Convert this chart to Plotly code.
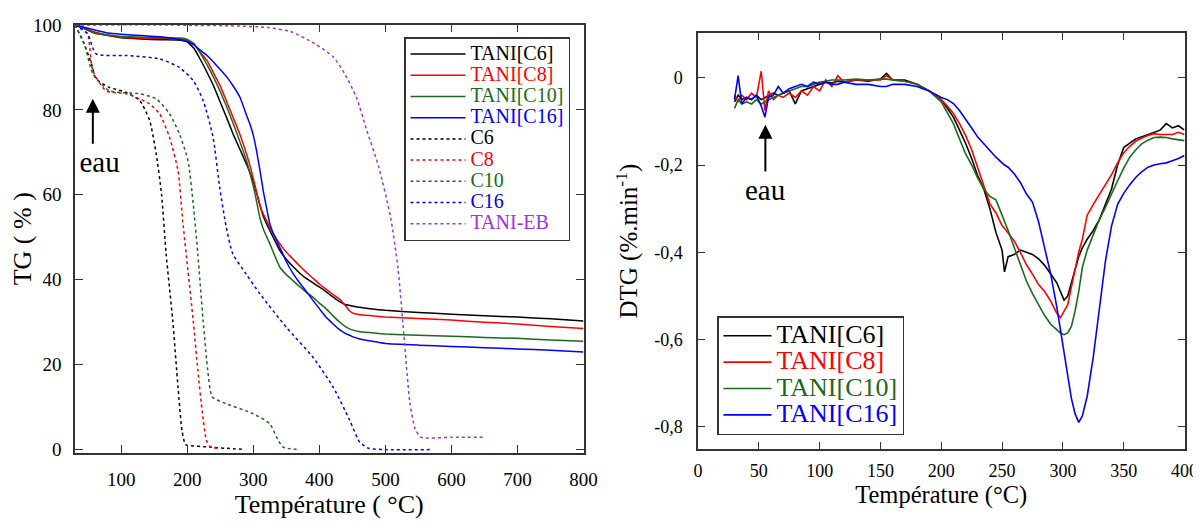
import plotly.graph_objects as go

# ---------------- TG data (left panel) ----------------
tg_temp = [30, 45, 60, 80, 100, 130, 160, 190, 200, 210, 220, 230, 240, 250, 260, 270,
           280, 290, 295, 300, 305, 310, 315, 320, 325, 330, 340, 350, 360, 370, 380, 390, 400, 410,
           420, 430, 440, 445, 450, 460, 480, 500, 550, 600, 650, 700, 750, 800]
tg_tani_c6 = [100, 99.1, 98.2, 97.5, 97.0, 96.7, 96.5, 96.4, 96.0, 94.5, 91.8, 88.8, 85.6, 81.8, 78.0, 74.1,
              70.6, 67.1, 65.2, 63.0, 60.4, 57.6, 55.0, 53.2, 51.6, 50.0, 46.9, 44.8, 43.1, 41.6, 40.3, 39.3, 38.3, 37.2,
              36.0, 34.9, 34.1, 34.0, 33.8, 33.5, 33.1, 32.8, 32.3, 31.9, 31.5, 31.2, 30.8, 30.3]
tg_tani_c8 = [100, 99.2, 98.3, 97.6, 97.1, 96.9, 96.8, 96.7, 96.4, 95.5, 93.5, 91.6, 88.6, 85.6, 81.8, 78.0,
              74.1, 69.5, 66.8, 63.8, 60.6, 57.5, 55.5, 53.9, 52.4, 50.9, 48.5, 46.5, 44.9, 43.3, 41.8, 40.4, 39.0, 37.8,
              36.6, 35.5, 33.8, 32.8, 32.2, 31.8, 31.5, 31.2, 30.9, 30.5, 30.0, 29.6, 29.0, 28.5]
tg_tani_c10 = [100, 99.0, 98.0, 97.6, 97.3, 97.1, 97.0, 96.9, 96.6, 95.6, 93.3, 90.6, 87.6, 84.3, 80.6, 76.6,
               72.4, 67.9, 65.0, 62.0, 58.4, 54.6, 52.0, 50.2, 48.5, 46.6, 43.0, 41.2, 39.8, 38.4, 37.1, 35.9, 34.5, 33.2,
               31.6, 30.1, 28.9, 28.5, 28.2, 27.8, 27.5, 27.2, 26.9, 26.7, 26.4, 26.2, 25.8, 25.5]
tg_tani_c16 = [100, 99.4, 98.8, 98.1, 97.8, 97.5, 97.2, 96.5, 96.1, 95.3, 94.0, 92.8, 91.2, 89.5, 87.7, 85.5,
               82.9, 78.6, 76.6, 74.0, 70.3, 65.8, 61.0, 57.0, 53.2, 51.0, 47.7, 44.3, 41.5, 39.3, 37.3, 35.2, 33.2, 31.2,
               29.7, 28.3, 27.3, 27.0, 26.6, 26.1, 25.5, 25.0, 24.6, 24.3, 24.0, 23.7, 23.4, 23.0]

c6_temp = [30, 42, 55, 62, 82, 108, 128, 143, 153, 161, 168, 178, 186, 192, 197, 200, 234, 260, 287]
c6_tg = [100, 96.3, 90.8, 87.3, 85.3, 84.1, 82.2, 77.5, 69.6, 60.2, 46.1, 30.4, 14.7, 4.5, 1.2, 1.0, 0.6, 0.3, 0.05]

c8_temp = [30, 40, 49, 57, 77, 108, 128, 143, 158, 173, 186, 193, 201, 209, 216, 223, 229, 234, 249]
c8_tg = [100, 99.0, 97.9, 89.2, 84.5, 83.8, 82.6, 81.4, 79.1, 73.6, 65.7, 54.0, 42.2, 30.4, 18.7, 8.5, 2.2, 0.8, 0.2]

c10_temp = [30, 45, 57, 82, 128, 153, 173, 188, 201, 209, 216, 224, 231, 238, 259, 299, 325, 335, 345, 370]
c10_tg = [100, 95.0, 88.5, 84.5, 83.8, 82.6, 79.1, 74.4, 68.1, 57.9, 46.1, 30.4, 18.7, 12.4, 10.8, 8.5, 6.1, 3.0, 0.6, 0.0]

c16_temp = [30, 49, 62, 108, 158, 188, 209, 224, 239, 249, 259, 269, 289, 310, 350, 390, 421, 446, 461, 475, 500, 570]
c16_tg = [100, 97.9, 93.2, 92.8, 92.0, 90.0, 86.9, 82.2, 73.6, 61.8, 52.4, 46.1, 41.4, 36.7, 28.8, 21.8, 14.7, 6.9, 1.8, 0.3, 0.0, 0.0]

eb_temp = [30, 160, 200, 264, 322, 357, 392, 421, 438, 456, 472, 490, 508, 519, 528, 537, 545, 554, 600, 652]
eb_tg = [100, 100, 99.9, 99.8, 99.4, 98.4, 95.7, 92.5, 88.6, 83.0, 75.1, 66.5, 54.6, 42.8, 27.0, 11.2, 4.9, 2.9, 2.9, 2.9]

# ---------------- DTG data (right panel) ----------------
dtg_temp = [30, 33, 36, 40, 44, 48, 52, 55, 58, 62, 66, 70, 75, 80, 85, 90, 95, 100, 105, 110,
            115, 120, 130, 140, 150, 155, 160, 170, 180, 190, 200, 205, 210, 215, 220, 225, 230,
            235, 240, 245, 250, 252, 255, 260, 265, 270, 275, 280, 285, 290, 295, 298, 301, 304,
            307, 310, 313, 316, 320, 325, 330, 335, 340, 345, 350, 355, 360, 365, 370, 375, 380,
            385, 390, 395, 400]
dtg_tani_c6 = [-0.055, -0.04, -0.05, -0.045, -0.05, -0.04, -0.05, -0.045, -0.04, -0.035, -0.04, -0.035, -0.03, -0.06, -0.03, -0.025, -0.02, -0.015, -0.01, -0.012,
               -0.008, -0.01, -0.005, -0.008, -0.003, 0.01, -0.005, -0.005, -0.015, -0.03, -0.05, -0.07, -0.09, -0.12, -0.15, -0.185, -0.225,
               -0.255, -0.30, -0.355, -0.395, -0.445, -0.41, -0.405, -0.395, -0.40, -0.405, -0.415, -0.43, -0.45, -0.47, -0.49, -0.51, -0.50,
               -0.47, -0.44, -0.41, -0.39, -0.37, -0.35, -0.325, -0.29, -0.255, -0.20, -0.16, -0.15, -0.14, -0.135, -0.13, -0.125, -0.12,
               -0.105, -0.115, -0.11, -0.12]
dtg_tani_c8 = [-0.04, -0.055, -0.04, -0.05, -0.035, -0.045, 0.015, -0.075, -0.03, -0.05, -0.04, -0.045, -0.035, -0.045, -0.03, -0.04, -0.02, -0.03, -0.005, -0.02,
               0.005, -0.01, -0.005, -0.005, -0.005, 0.005, -0.005, -0.008, -0.015, -0.03, -0.05, -0.065, -0.082, -0.105, -0.132, -0.165, -0.205,
               -0.25, -0.289, -0.31, -0.339, -0.345, -0.355, -0.374, -0.40, -0.428, -0.45, -0.474, -0.49, -0.512, -0.54, -0.55, -0.535, -0.52,
               -0.48, -0.44, -0.40, -0.37, -0.315, -0.29, -0.268, -0.245, -0.222, -0.195, -0.172, -0.157, -0.145, -0.138, -0.132, -0.128, -0.13,
               -0.13, -0.13, -0.125, -0.13]
dtg_tani_c10 = [-0.07, -0.05, -0.06, -0.055, -0.06, -0.05, -0.06, -0.055, -0.05, -0.045, -0.04, -0.035, -0.03, -0.025, -0.02, -0.02, -0.015, -0.01, -0.008, -0.005,
                -0.005, -0.005, -0.003, -0.005, -0.003, -0.003, -0.005, -0.008, -0.015, -0.03, -0.055, -0.08, -0.105, -0.14, -0.174, -0.20, -0.23,
                -0.255, -0.272, -0.28, -0.315, -0.325, -0.35, -0.389, -0.43, -0.466, -0.495, -0.52, -0.545, -0.565, -0.578, -0.585, -0.589, -0.585,
                -0.57, -0.535, -0.49, -0.435, -0.395, -0.359, -0.325, -0.297, -0.265, -0.236, -0.207, -0.182, -0.165, -0.151, -0.143, -0.137, -0.136,
                -0.137, -0.14, -0.142, -0.144]
dtg_tani_c16 = [-0.05, 0.005, -0.06, -0.045, -0.05, -0.04, -0.065, -0.09, -0.045, -0.04, -0.02, -0.035, -0.025, -0.02, -0.015, -0.02, -0.01, -0.015, -0.01, -0.015,
                -0.015, -0.01, -0.015, -0.015, -0.02, -0.02, -0.015, -0.015, -0.02, -0.03, -0.045, -0.05, -0.059, -0.075, -0.094, -0.115, -0.136,
                -0.152, -0.167, -0.182, -0.195, -0.20, -0.205, -0.22, -0.24, -0.266, -0.285, -0.33, -0.39, -0.45, -0.525, -0.58, -0.635, -0.69,
                -0.735, -0.77, -0.79, -0.775, -0.73, -0.64, -0.53, -0.42, -0.34, -0.29, -0.265, -0.245, -0.228, -0.215, -0.205, -0.20, -0.197,
                -0.195, -0.19, -0.185, -0.178]

left_xticks = [100, 200, 300, 400, 500, 600, 700, 800]
left_yticks = [0, 20, 40, 60, 80, 100]
right_xticks = [0, 50, 100, 150, 200, 250, 300, 350, 400]
right_yticks = [0, -0.2, -0.4, -0.6, -0.8]
right_ytext = ["0", "-0,2", "-0,4", "-0,6", "-0,8"]

BLACK, RED, GREEN, BLUE, VIOLET = "#000000", "#ff0000", "#1a6b1a", "#0000ff", "#a030e8"
FONT = "Liberation Serif, Times New Roman, serif"
W, H, OFF = 1201, 525, 8  # page body offset of the figure


def dx(px):
    return (px - OFF) / W


def dy(py):
    return (H + OFF - py) / H


def lname(text, color, size):
    return f"<span style='color:{color};font-size:{size}px'>{text}</span>"


fig = go.Figure()

solid = [("TANI[C6]", tg_tani_c6, BLACK), ("TANI[C8]", tg_tani_c8, RED),
         ("TANI[C10]", tg_tani_c10, GREEN), ("TANI[C16]", tg_tani_c16, BLUE)]
for name, ys, col in solid:
    fig.add_trace(go.Scatter(x=tg_temp, y=ys, mode="lines", name=lname(name, col, 20),
                             line=dict(color=col, width=1.5, shape="spline", smoothing=0.4),
                             xaxis="x", yaxis="y", legend="legend"))

dotted = [("C6", c6_temp, c6_tg, BLACK), ("C8", c8_temp, c8_tg, RED),
          ("C10", c10_temp, c10_tg, GREEN), ("C16", c16_temp, c16_tg, BLUE),
          ("TANI-EB", eb_temp, eb_tg, VIOLET)]
for name, xs, ys, col in dotted:
    fig.add_trace(go.Scatter(x=xs, y=ys, mode="lines", name=lname(name, col, 20),
                             line=dict(color=col, width=1.5, dash="dot", shape="spline", smoothing=0.6),
                             xaxis="x", yaxis="y", legend="legend"))

dtg = [("TANI[C6]", dtg_tani_c6, BLACK), ("TANI[C8]", dtg_tani_c8, RED),
       ("TANI[C10]", dtg_tani_c10, GREEN), ("TANI[C16]", dtg_tani_c16, BLUE)]
for name, ys, col in dtg:
    fig.add_trace(go.Scatter(x=dtg_temp, y=ys, mode="lines", name=lname(name, col, 26),
                             line=dict(color=col, width=1.6), xaxis="x2", yaxis="y2", legend="legend2"))

axis_common = dict(showgrid=False, zeroline=False, showline=True, linecolor="#333", linewidth=1.5,
                   mirror="ticks", ticks="inside", tickcolor="#333", tickwidth=1.2, automargin=False)

fig.update_layout(
    width=W, height=H,
    margin=dict(l=0, r=0, t=0, b=0, autoexpand=False),
    paper_bgcolor="white", plot_bgcolor="white",
    font=dict(family=FONT, color="black"),
    showlegend=True,
    xaxis=dict(**axis_common, domain=[dx(75), dx(583.5)], range=[30, 800],
               tickvals=left_xticks, ticklen=8, ticklabelstandoff=8,
               tickfont=dict(family=FONT, size=19, color="black"),
               title=dict(text="Température ( °C)", font=dict(family=FONT, size=26), standoff=6),
               anchor="y"),
    yaxis=dict(**axis_common, domain=[dy(453), dy(24.5)], range=[-0.8, 100.1],
               tickvals=left_yticks, ticklen=8, ticklabelstandoff=8,
               tickfont=dict(family=FONT, size=19, color="black"),
               title=dict(text="TG ( % )", font=dict(family=FONT, size=26), standoff=3),
               anchor="x"),
    xaxis2=dict(**axis_common, domain=[dx(698), dx(1184.5)], range=[0, 400],
                tickvals=right_xticks, ticklen=7, ticklabelstandoff=5,
                tickfont=dict(family=FONT, size=18, color="black"),
                title=dict(text="Température (°C)", font=dict(family=FONT, size=24.5), standoff=2),
                anchor="y2"),
    yaxis2=dict(**axis_common, domain=[dy(449), dy(33.3)], range=[-0.851, 0.102],
                tickvals=right_yticks, ticktext=right_ytext, ticklen=7, ticklabelstandoff=10,
                tickfont=dict(family=FONT, size=18, color="black"),
                title=dict(text="DTG (%.min<sup>-1</sup>)", font=dict(family=FONT, size=25), standoff=9),
                anchor="x2"),
    legend=dict(x=dx(404), y=dy(37), xanchor="left", yanchor="top",
                bgcolor="white", bordercolor="#333", borderwidth=1.5,
                font=dict(family=FONT, size=14), itemwidth=55, tracegroupgap=0),
    legend2=dict(x=dx(717), y=dy(316), xanchor="left", yanchor="top",
                 bgcolor="white", bordercolor="#333", borderwidth=1.5,
                 font=dict(family=FONT, size=18), itemwidth=48, tracegroupgap=0),
    annotations=[
        dict(x=57, y=82.6, ax=57, ay=72.0, xref="x", yref="y", axref="x", ayref="y",
             text="&nbsp;&nbsp;eau", xanchor="center", yanchor="top", showarrow=True,
             arrowhead=2, arrowsize=1.4, arrowwidth=2, arrowcolor="black",
             font=dict(family=FONT, size=29, color="black")),
        dict(x=55.4, y=-0.1075, ax=55.4, ay=-0.215, xref="x2", yref="y2", axref="x2", ayref="y2",
             text="eau", xanchor="center", yanchor="top", showarrow=True,
             arrowhead=2, arrowsize=1.4, arrowwidth=2, arrowcolor="black",
             font=dict(family=FONT, size=29, color="black")),
    ],
)

fig.write_html("out.html")
